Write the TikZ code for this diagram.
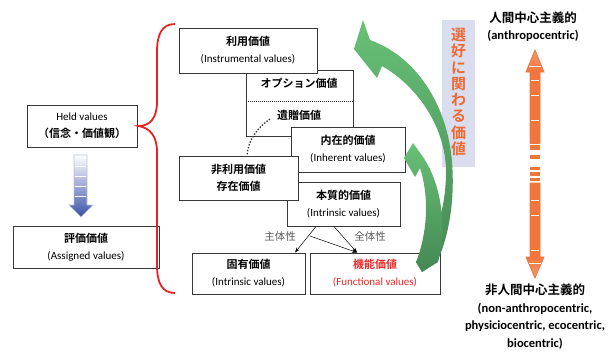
\documentclass[tikz,border=0pt]{standalone}
\usepackage{fontspec}
\setmainfont{Carlito}
\newfontfamily\jp{Noto Sans CJK JP}[BoldFont={Noto Sans CJK JP Bold}]
\usetikzlibrary{arrows.meta,calc}
\definecolor{boxgray}{RGB}{55,55,55}
\definecolor{redbr}{RGB}{230,35,35}
\definecolor{grnL}{RGB}{104,192,118}
\definecolor{grnD}{RGB}{68,136,84}
\definecolor{lav}{RGB}{218,221,238}
\definecolor{orgT}{RGB}{238,105,50}
\definecolor{orgA}{RGB}{240,118,62}
\definecolor{bluA}{RGB}{58,82,168}
\definecolor{lblgray}{RGB}{90,90,90}
\definecolor{fred}{RGB}{235,40,40}
\newcommand\jpt[1]{{\jp\bfseries #1}}
\begin{document}
\begin{tikzpicture}[x=1pt,y=-1pt,
  box/.style={draw=boxgray, line width=1pt, fill=white, inner sep=0pt, align=center,
    font=\fontsize{11}{17}\selectfont},
  lbl/.style={text=lblgray, font=\jp\fontsize{10.5}{12}\selectfont, inner sep=0pt},
  rtext/.style={align=center, inner sep=0pt, font=\bfseries\fontsize{12.5}{17.5}\selectfont},
  conn/.style={-{Stealth[length=5pt,width=3.6pt]}, line width=0.5pt, black},
  orgout/.style={draw=orgA, line width=0.8pt},
  stripe/.style={white, line width=0.8pt}
]
\useasboundingbox (0,0) rectangle (610,351);

% ---------------- left side ----------------
\node[box, minimum width=110pt, minimum height=42pt] (held) at (82,126)
  {Held values\\\jpt{（信念・価値観）}};
\node[box, minimum width=146pt, minimum height=42pt] (assigned) at (86,247)
  {\jpt{評価価値}\\(Assigned values)};

% blue arrow
\shade[top color=white, bottom color=bluA]
  (74,155) -- (87,155) -- (87,205) -- (93,205) -- (81,217) -- (69,205) -- (74,205) -- cycle;
\draw[bluA!35, line width=0.6pt]
  (74,155) -- (87,155) -- (87,205) -- (93,205) -- (81,217) -- (69,205) -- (74,205) -- cycle;
\foreach \yy in {166,176,186,196} \draw[stripe] (74.6,\yy) -- (86.4,\yy);

% red brace
\coordinate (brtop) at (175,24);
\coordinate (brbot) at (175,293);
\draw[redbr, line width=1.8pt] (brtop) .. controls (162,24) and (157,34) .. (157,52) -- (157,102)
  .. controls (157,118) and (150,126) .. ([xshift=1pt]held.east)
  .. controls (150,128) and (157,136) .. (157,152) -- (157,265)
  .. controls (157,283) and (162,293) .. (brbot);

% ---------------- middle boxes ----------------
\node[box, minimum width=107pt, minimum height=66pt] (opt) at (299.5,103) {};
\draw[boxgray, line width=0.6pt, dash pattern=on 1pt off 1pt] ([yshift=2pt]opt.west) -- ([yshift=2pt]opt.east);
\node[inner sep=0pt, font=\jp\bfseries\fontsize{11}{13}\selectfont] (optt) at (299,83) {オプション価値};
\node[inner sep=0pt, font=\jp\bfseries\fontsize{11}{13}\selectfont] (izo) at (299,115) {遺贈価値};

\node[box, minimum width=138pt, minimum height=45pt] (instr) at (248,50.5)
  {\jpt{利用価値}\\(Instrumental values)};
\node[box, minimum width=114pt, minimum height=45pt] (inh) at (348,149.5)
  {\jpt{内在的価値}\\(Inherent values)};
\node[box, minimum width=113pt, minimum height=44pt] (intr) at (343.5,204)
  {\jpt{本質的価値}\\(Intrinsic values)};
\node[box, minimum width=119pt, minimum height=44pt] (nonuse) at (238.5,178)
  {\jpt{非利用価値}\\\jpt{存在価値}};
\node[box, minimum width=113pt, minimum height=41pt] (koyu) at (248.5,273.5)
  {\jpt{固有価値}\\(Intrinsic values)};
\node[box, minimum width=130pt, minimum height=41pt, text=fred] (kino) at (375,273.5)
  {\jpt{機能価値}\\(Functional values)};

% dotted curve
\coordinate (dtop) at (270,119);
\draw[boxgray, line width=1.4pt, dash pattern=on 1.4pt off 1.6pt]
  (dtop) .. controls (258,127) and (248,140) .. ([xshift=8.5pt]nonuse.north);

% connectors
\node[lbl] (shutai) at (280,236) {主体性};
\node[lbl] (zentai) at (370,236) {全体性};
\coordinate (s3) at (310,236);
\draw[conn] ([xshift=-27.5pt]intr.south) -- ([xshift=46.5pt]koyu.north);
\draw[conn] ([xshift=-9.5pt]intr.south) -- ([xshift=-18pt]kino.north);
\draw[conn] (s3) -- ([xshift=-18pt]kino.north);

% ---------------- lavender box ----------------
\fill[lav] (442,20) rectangle (475,167);
\node[align=center, inner sep=0pt, text=orgT, font=\jp\bfseries\fontsize{15}{16.3}\selectfont] (pref) at (458.5,92)
  {選\\好\\に\\関\\わ\\る\\価\\値};

% ---------------- green arrows ----------------
\shade[top color=grnL, bottom color=grnD]
  (363,20) -- (354,49) -- (377,78) -- (382,66)
  .. controls (420,88) and (446,130) .. (446,172)
  .. controls (446,210) and (434,244) .. (416,262) -- (422,272) -- (437,262)
  .. controls (449,236) and (455,200) .. (452,162)
  .. controls (448,110) and (420,58) .. (370,40) -- cycle;
\shade[top color=grnL, bottom color=grnD]
  (413,143) -- (404,158) -- (415,177) -- (420,168)
  .. controls (429,195) and (428,232) .. (416,262) -- (422,272) -- (438,262)
  .. controls (447,228) and (442,185) .. (423,157) -- cycle;

% ---------------- right side ----------------
\node[rtext] (anthro) at (533,18) {\jpt{人間中心主義的}};
\node[rtext] (anthroen) at (533,36) {(anthropocentric)};
\node[rtext] (nonanthro) at (535,290) {\jpt{非人間中心主義的}};
\node[rtext] (nonanthroen) at (535,326) {(non-anthropocentric,\\physiciocentric, ecocentric,\\biocentric)};

% orange double arrow
\shade[left color=orgA, middle color=orgA!12, right color=orgA]
  (530,72) -- (540,72) -- (540,143) -- (530,143) -- cycle;
\shade[left color=orgA, middle color=orgA!12, right color=orgA]
  (530,183) -- (540,183) -- (540,257) -- (530,257) -- cycle;
\shade[top color=orgA!75, bottom color=orgA] (526,72) -- (535,50) -- (544,72) -- cycle;
\shade[top color=orgA, bottom color=orgA!75] (526,257) -- (535,278) -- (544,257) -- cycle;
\draw[orgout]
  (526,72) -- (535,50) -- (544,72) -- (540,72) -- (540,143) -- (530,143) -- (530,72) -- cycle;
\draw[orgout]
  (530,183) -- (540,183) -- (540,257) -- (544,257) -- (535,278) -- (526,257) -- (530,257) -- cycle;
\foreach \yy in {80,95,120,200,215,250} \draw[stripe] (530.8,\yy) -- (539.2,\yy);
\draw[stripe] (529,66) -- (541,66);
\draw[stripe] (529,263) -- (541,263);
\foreach \ya/\yb in {145/150,155/159,167/170,172/176,178/181}
  \fill[orgA] (530,\ya) rectangle (540,\yb);
\end{tikzpicture}
\end{document}
